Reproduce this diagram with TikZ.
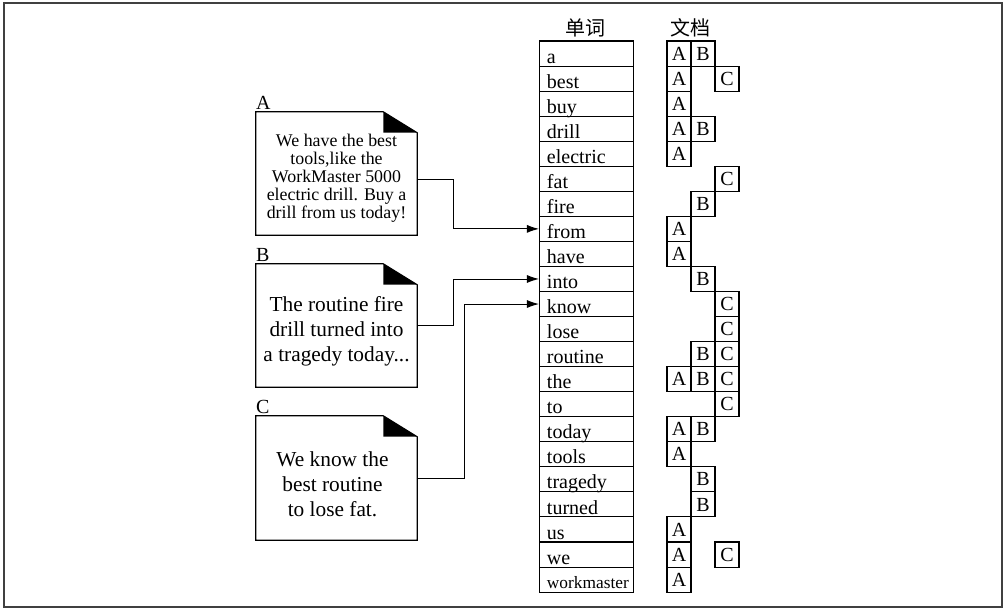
\documentclass[tikz,border=0pt]{standalone}
\usepackage{fontspec}
\setmainfont{Liberation Serif}
\newfontfamily\cjk{Noto Sans CJK SC}
\usetikzlibrary{arrows.meta}

\tikzset{
  wordcell/.style={draw, line width=0.8pt, minimum width=70.5pt, minimum height=18.79pt, inner sep=0pt},
  wordtext/.style={anchor=base west, inner sep=0pt, font=\fontsize{15}{15}\selectfont},
  doccell/.style={draw, line width=0.8pt, minimum width=18pt, minimum height=18.79pt, inner sep=0pt,
    font=\fontsize{15}{15}\selectfont, text height=9.9pt, text depth=0pt},
  docbox/.style={minimum width=120.75pt, minimum height=92.25pt, inner sep=0pt},
  doctext/.style={align=center, inner sep=0pt},
  doclabel/.style={anchor=base west, inner sep=0pt, font=\fontsize{15}{15}\selectfont},
  header/.style={inner sep=0pt, font=\cjk\fontsize{15}{15}\selectfont},
  arr/.style={line width=0.7pt, -{Latex[length=9pt,width=6pt]}},
}

\begin{document}
\begin{tikzpicture}[x=0.75pt,y=-0.75pt]
    % 画布与外框
    \useasboundingbox (0,0) rectangle (1003,607);
    \draw[black!75, line width=0.8pt] (4,3) rectangle (1002,607);

    % 文档列的位置
    \coordinate (colA) at (679,0);
    \coordinate (colB) at (703,0);
    \coordinate (colC) at (727,0);

    % 表头
    \node[header] (hword) at (585,28) {单词};
    \node[header] (hdoc)  at (690,28) {文档};

    % 单词列与对应的文档
    \foreach \w/\d [count=\i from 0] in {a/{A,B}, best/{A,C}, buy/{A}, drill/{A,B},
        electric/{A}, fat/{C}, fire/{B}, from/{A}, have/{A}, into/{B}, know/{C},
        lose/{C}, routine/{B,C}, the/{A,B,C}, to/{C}, today/{A,B}, tools/{A},
        tragedy/{B}, turned/{B}, us/{A}, we/{A,C}} {
      \node[wordcell] (w\i) at (586.5,{41+25.05*(\i+0.5)}) {};
      \node[wordtext] (t\i) at ([xshift=5.8pt,yshift=2.6pt]w\i.south west) {\w};
      \foreach \c in \d {
        \node[doccell] (d\i\c) at (col\c |- w\i) {\c};
      }
    }
    % 最后一行字号小一些
    \node[wordcell] (w21) at (586.5,{41+25.05*21.5}) {};
    \node[wordtext, font=\fontsize{13}{13}\selectfont] (t21) at ([xshift=5.8pt,yshift=2.8pt]w21.south west) {workmaster};
    \node[doccell] (d21A) at (colA |- w21) {A};

    % 三篇文档
    \node[docbox] (docA) at (336.5,173.5) {};
    \node[docbox] (docB) at (336.5,325.5) {};
    \node[docbox, minimum height=93pt] (docC) at (336.5,478) {};

    \foreach \n in {A,B,C} {
      \draw[line width=0.8pt] (doc\n.north west) -- ([xshift=-25.5pt]doc\n.north east)
        -- ([yshift=-15.75pt]doc\n.north east) -- (doc\n.south east) -- (doc\n.south west) -- cycle;
      \fill ([xshift=-25.5pt]doc\n.north east) -- ([xshift=-25.5pt,yshift=-15.75pt]doc\n.north east)
        -- ([yshift=-15.75pt]doc\n.north east) -- cycle;
      \node[doclabel] (lab\n) at ([yshift=2pt]doc\n.north west) {\n};
    }

    % 文档内容
    \node[doctext, font=\fontsize{13.4}{13.4}\selectfont] (txtA) at ([yshift=-3.5pt]docA.center)
      {We have the best\\tools,like the\\WorkMaster 5000\\electric drill. Buy a\\drill from us today!};
    \node[doctext, font=\fontsize{16}{18.75}\selectfont] (txtB) at ([yshift=-4pt]docB.center)
      {The routine fire\\drill turned into\\a tragedy today...};
    \node[doctext, font=\fontsize{16}{18.75}\selectfont] (txtC) at ([xshift=-3pt,yshift=-5pt]docC.center)
      {We know the\\best routine\\to lose fat.};

    % 连线
    \draw[arr] ([yshift=-4.5pt]docA.east) -- ++(36,0) |- (w7.west);
    \draw[arr] (docB.east) -- ++(36,0) |- (w9.west);
    \draw[arr] (docC.east) -- ++(47,0) |- (w10.west);

\end{tikzpicture}
\end{document}
